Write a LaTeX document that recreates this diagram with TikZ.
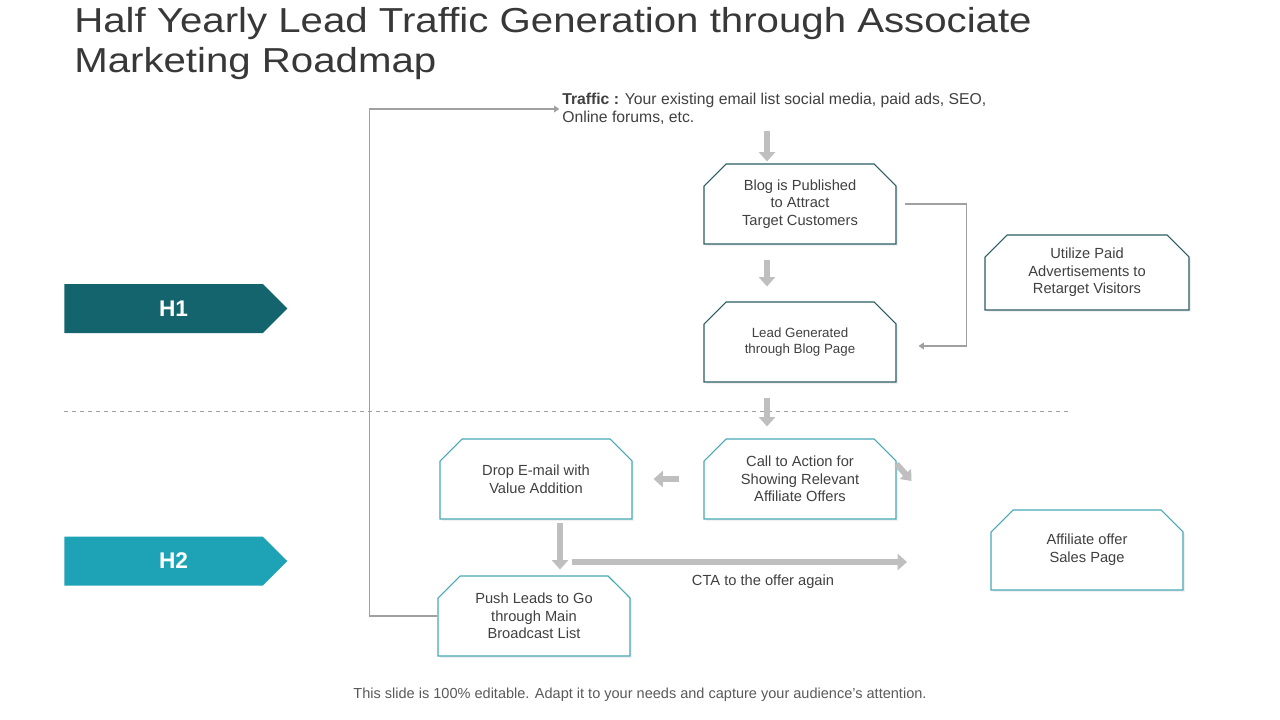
\documentclass[tikz,border=0pt]{standalone}
\usepackage{fontspec}
\setmainfont{Liberation Sans}
\newfontfamily\titlefont[FakeStretch=1.16]{Liberation Sans}
\usetikzlibrary{arrows.meta,positioning,shapes.misc,shapes.symbols,shadows,calc}
\definecolor{hteal}{RGB}{19,100,108}
\definecolor{hcyan}{RGB}{29,163,181}
\definecolor{boxdark}{RGB}{42,92,100}
\definecolor{boxlight}{RGB}{70,168,180}
\definecolor{arrowgray}{RGB}{191,191,191}
\definecolor{linegray}{RGB}{160,160,160}
\definecolor{txtgray}{RGB}{64,64,64}
\tikzset{
  stepbox/.style={chamfered rectangle, chamfered rectangle corners={north west,north east},
    chamfered rectangle xsep=7.5pt, chamfered rectangle ysep=9pt,
    draw=boxdark, line width=0.8pt, fill=white, minimum width=144pt, minimum height=60pt,
    inner sep=0pt, align=center, text=txtgray, font=\fontsize{11}{13.2}\selectfont,
    drop shadow={opacity=0.12, shadow xshift=1.5pt, shadow yshift=-1.5pt}},
  lightbox/.style={stepbox, draw=boxlight},
  banner/.style={signal, signal to=east, signal pointer angle=90, draw=none,
    minimum width=167.25pt, minimum height=36.75pt, inner sep=0pt,
    text=white, font=\bfseries\fontsize{17}{20}\selectfont},
  bigarrow/.style={arrowgray, line width=4.5pt, -{Triangle[width=12pt,length=7pt]}},
  link/.style={linegray, line width=1pt, -{Triangle[width=5pt,length=4pt]}}
}
\begin{document}
\begin{tikzpicture}[x=0.75pt,y=-0.75pt]
\useasboundingbox (0,0) rectangle (1280,720);
% title
\node[anchor=north west, align=left, text=black!78, font=\titlefont\fontsize{26}{30}\selectfont,
      inner sep=0pt] (title) at (74,7)
  {Half Yearly Lead Traffic Generation through Associate\\Marketing Roadmap};
% half-year banners
\node[banner, fill=hteal] (h1) at (163.5,308.5) {\hspace*{15pt}H1};
\node[banner, fill=hcyan] (h2) at (163.5,561) {\hspace*{15pt}H2};
\draw[linegray, dashed, line width=0.6pt] (64,411) -- (1070,411);
% traffic source
\node[anchor=west, align=left, text=txtgray, font=\fontsize{11.8}{13.5}\selectfont,
      inner sep=0pt] (traffic) at (562,109)
  {\textbf{Traffic :} Your existing email list social media, paid ads, SEO,\\Online forums, etc.};
% steps
\node[stepbox] (blog) at (800,204) {Blog is Published\\to Attract\\Target Customers};
\node[stepbox, font=\fontsize{10}{12.5}\selectfont] (lead) at (800,342) {Lead Generated\\through Blog Page};
\node[stepbox, minimum width=153pt, minimum height=56.25pt] (paid) at (1087,272.5)
  {Utilize Paid\\Advertisements to\\Retarget Visitors};
\node[lightbox] (cta) at (800,479) {Call to Action for\\Showing Relevant\\Affiliate Offers};
\node[lightbox] (drop) at (536,479) {Drop E-mail with\\Value Addition};
\node[lightbox] (push) at (534,616) {Push Leads to Go\\through Main\\Broadcast List};
\node[lightbox] (offer) at (1087,550) {Affiliate offer\\Sales Page};
% flow arrows
\draw[bigarrow] ([xshift=-24.75pt]blog.north |- traffic.south) ++(0,6) -- ([xshift=-24.75pt,yshift=1.5pt]blog.north);
\draw[bigarrow, shorten <=11.25pt, shorten >=11.25pt] ([xshift=-24.75pt]blog.south) -- ([xshift=-24.75pt]lead.north);
\draw[bigarrow, shorten <=11.25pt, shorten >=9pt] ([xshift=-24.75pt]lead.south) -- ([xshift=-24.75pt]cta.north);
\draw[bigarrow, shorten <=18pt, shorten >=15.75pt] (cta.west) -- (drop.east);
\draw[bigarrow, shorten <=2.25pt, shorten >=4.5pt] ([xshift=18pt]drop.south) -- ([xshift=18pt]drop.south |- push.north);
\draw[bigarrow, -{Triangle[width=11pt,length=7pt]}] ([yshift=11.25pt]cta.east) -- ++(15,17);
\coordinate (ctastart) at (572,562);
\coordinate (ctaend) at (907,562);
\draw[bigarrow] (ctastart) -- (ctaend);
\node[text=txtgray, font=\fontsize{11}{13}\selectfont] (again) at (763,582) {CTA to the offer again};
% thin connectors
\draw[link, shorten >=2pt] (push.west) -- ++(-68,0) |- (traffic.west);
\draw[link, shorten <=6pt, shorten >=16.5pt] (blog.east) -- ++(70,0) |- ([yshift=-3pt]lead.east);
% footer
\node[text=black!65, font=\fontsize{10.9}{12}\selectfont] (foot) at (640,695)
  {This slide is 100\% editable. Adapt it to your needs and capture your audience's attention.};
\end{tikzpicture}
\end{document}
